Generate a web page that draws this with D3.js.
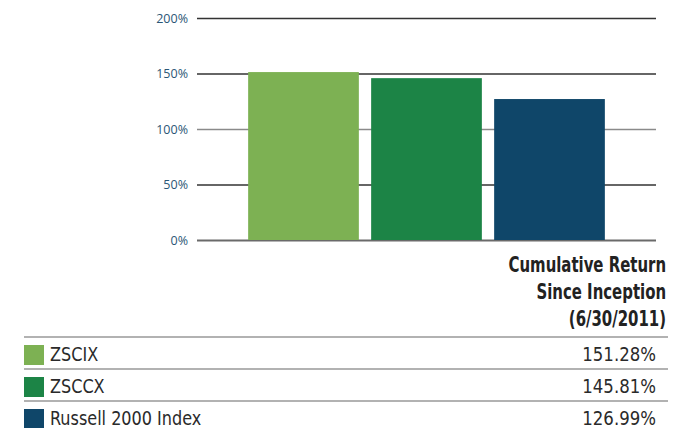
<!DOCTYPE html>
<html lang="en">
<head>
<meta charset="UTF-8">
<title>Cumulative Return Since Inception</title>
<style>
  html, body { margin: 0; padding: 0; background: #fff; overflow: hidden; }
  svg { display: block; }
  .tick text { font-family: "Open Sans", sans-serif; font-size: 12.5px; fill: #2b5676; }
  .narrow { font-family: "DejaVu Sans Condensed", sans-serif; }
</style>
</head>
<body>
<div id="chart"></div>
<script src="https://cdn.jsdelivr.net/npm/d3@7"></script>
<script>
  // data
  const funds = ['ZSCIX', 'ZSCCX', 'Russell 2000 Index'];
  const returns = [151.28, 145.81, 126.99];
  const colors = ['#7db153', '#1c8446', '#0f4669'];
  const yTicks = [0, 50, 100, 150, 200];
  const heading = ['Cumulative Return', 'Since Inception', '(6/30/2011)'];

  const W = 684, H = 428;
  const svg = d3.select('#chart').append('svg').attr('width', W).attr('height', H);

  // plot area
  const plotL = 197, plotR = 656, plotT = 18, plotB = 240;

  const x = d3.scaleBand().domain(funds).range([242, 611])
    .paddingInner(0.1).paddingOuter(0.05);
  const y = d3.scaleLinear().domain([0, 200]).range([plotB, plotT]);

  // gridlines + tick labels
  const axis = d3.axisLeft(y).tickValues(yTicks)
    .tickSize(-(plotR - plotL)).tickPadding(9)
    .tickFormat(d => d + '%');
  const g = svg.append('g').attr('transform', `translate(${plotL},0)`).call(axis);
  g.select('.domain').remove();
  g.selectAll('.tick line')
    .attr('stroke', d => d === 100 ? '#8a8a8a' : d === 0 ? '#6a6a6a' : '#333')
    .attr('stroke-width', d => d === 0 ? 2 : 1.5);

  // bars
  svg.append('g').selectAll('rect')
    .data(returns)
    .enter()
    .append('rect')
    .attr('x', (d, i) => x(funds[i]))
    .attr('y', d => y(d))
    .attr('width', x.bandwidth())
    .attr('height', d => y(0) - y(d))
    .attr('fill', (d, i) => colors[i]);

  // column heading (squeezed to look like a condensed face)
  svg.append('g')
    .attr('transform', 'translate(666,0) scale(0.79,1)')
    .append('text').attr('class', 'narrow')
    .attr('text-anchor', 'end')
    .attr('font-size', 21).attr('font-weight', 'bold').attr('fill', '#222')
    .selectAll('tspan')
    .data(heading)
    .enter()
    .append('tspan')
    .attr('x', 0)
    .attr('y', (d, i) => 272 + i * 27)
    .text(d => d);

  // legend table
  const rows = d3.scaleBand().domain(funds).range([337, 433]);
  const row = svg.append('g').selectAll('g')
    .data(funds)
    .enter()
    .append('g')
    .attr('transform', d => `translate(0,${rows(d)})`);

  row.append('line')
    .attr('x1', 24).attr('x2', 668)
    .attr('y1', 0).attr('y2', 0)
    .attr('stroke', '#999').attr('stroke-width', 1.5);

  row.append('rect')
    .attr('x', 24).attr('y', 8)
    .attr('width', 20).attr('height', 20)
    .attr('fill', (d, i) => colors[i]);

  row.append('text').attr('class', 'narrow')
    .attr('transform', 'translate(50,24) scale(0.94,1)')
    .attr('font-size', 19).attr('fill', '#2a2a2a')
    .text(d => d);

  row.append('text').attr('class', 'narrow')
    .attr('transform', 'translate(656,24) scale(0.97,1)')
    .attr('text-anchor', 'end')
    .attr('font-size', 19).attr('fill', '#2a2a2a')
    .text((d, i) => returns[i].toFixed(2) + '%');
</script>
</body>
</html>
